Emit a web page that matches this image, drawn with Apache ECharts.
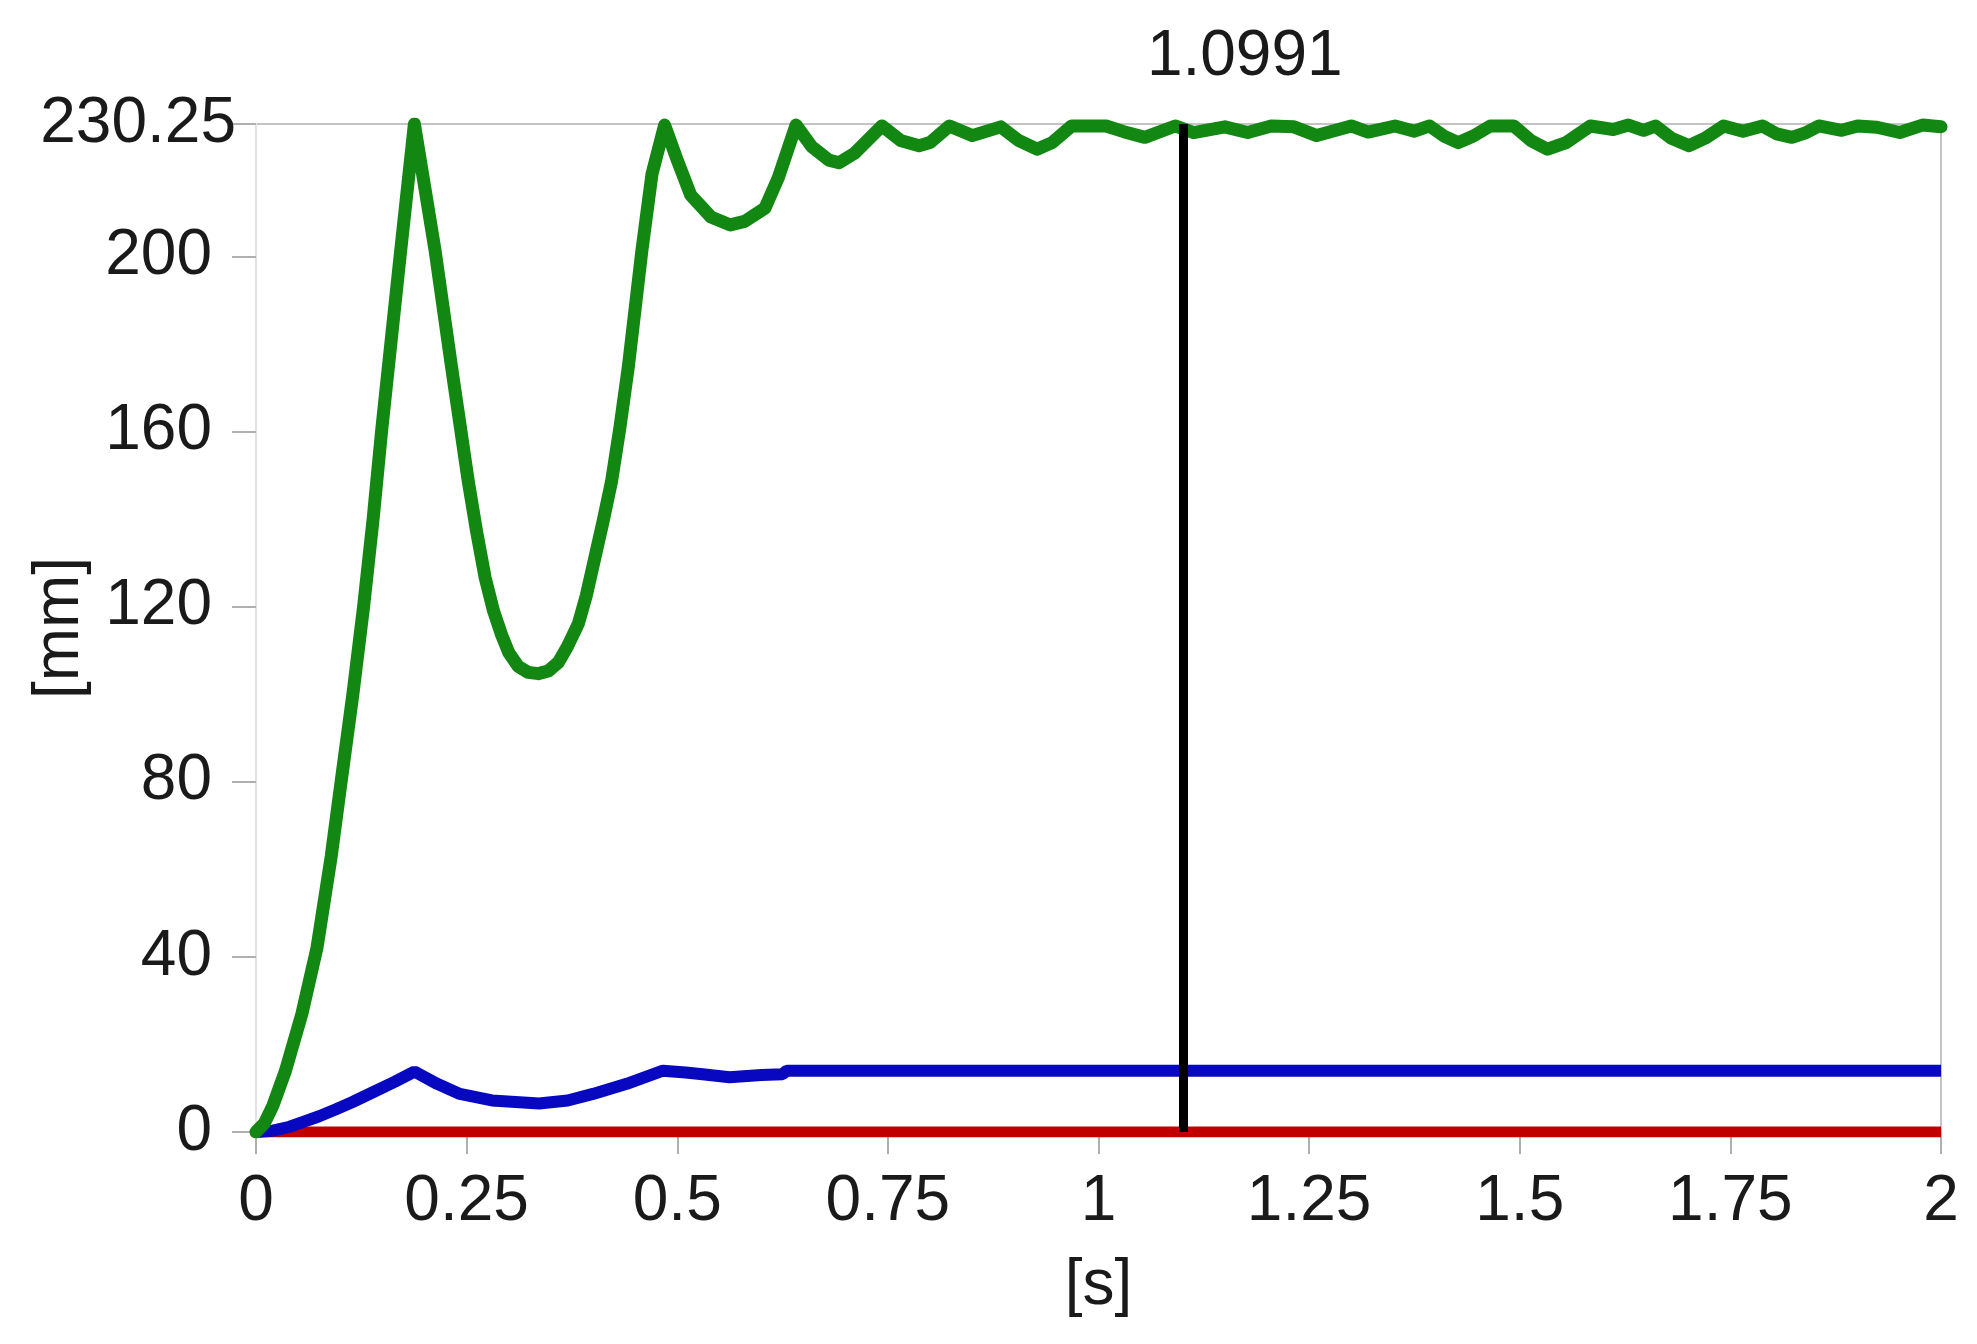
<!DOCTYPE html>
<html>
<head>
<meta charset="utf-8">
<script src="https://cdn.jsdelivr.net/npm/echarts@6/dist/echarts.min.js"></script>
<style>
html,body{margin:0;padding:0;background:#fff;}
#chart{width:1977px;height:1344px;}
</style>
</head>
<body>
<div id="chart"></div>
<script>
// time [s], displacement [mm]
var greenPoints = [
  [0,0],[0.01,2],[0.02,6],[0.035,14],[0.0545,27],[0.0723,42],[0.0893,63],[0.101,80],[0.115,100],
  [0.1277,120],[0.139,140],[0.149,160],[0.16,180],[0.171,200],[0.188,230.25],
  [0.2126,201.3],[0.232,174.9],[0.252,148.6],[0.262,137],[0.272,126.6],[0.282,119],[0.2916,113.5],
  [0.30,109.5],[0.311,106.4],[0.323,105],[0.335,104.7],[0.347,105.3],[0.359,107.3],[0.37,111],
  [0.3826,116.1],[0.392,122.5],[0.402,131],[0.412,139.5],[0.422,148.6],[0.432,161],[0.442,174.9],
  [0.458,201.3],[0.47,218.8],[0.485,230],
  [0.5,222],[0.516,214],[0.54,209],[0.563,207.2],[0.58,208],[0.604,211],[0.62,218],[0.641,230],
  [0.66,225],[0.68,222],[0.692,221.4],[0.71,223.5],[0.743,229.8],[0.765,226.5],[0.787,225.3],
  [0.8,226],[0.823,229.8],[0.85,227.6],[0.884,229.6],[0.905,226.5],[0.927,224.5],[0.945,226],
  [0.968,229.8],[1.009,229.8],[1.03,228.5],[1.055,227.2],[1.091,229.8],[1.113,228.3],[1.15,229.6],
  [1.177,228.3],[1.205,229.8],[1.232,229.6],[1.259,227.6],[1.3,229.8],[1.32,228.4],[1.352,229.8],
  [1.375,228.6],[1.393,229.8],[1.41,227.5],[1.427,226],[1.445,227.5],[1.465,229.8],[1.493,229.8],
  [1.513,226.5],[1.533,224.5],[1.555,226],[1.584,229.8],[1.611,229],[1.629,230],[1.647,228.8],
  [1.661,229.8],[1.68,227],[1.701,225.3],[1.72,227],[1.742,229.8],[1.765,228.6],[1.788,229.8],
  [1.805,228],[1.823,227.2],[1.84,228.3],[1.855,229.8],[1.882,228.8],[1.901,229.8],[1.924,229.5],
  [1.951,228.3],[1.978,230],[2,229.6]
];
var bluePoints = [
  [0,0],[0.02,0.3],[0.04,1.2],[0.0545,2.2],[0.075,3.6],[0.095,5.2],[0.114,6.8],[0.14,9.2],[0.165,11.5],
  [0.188,13.8],[0.215,11],[0.242,8.7],[0.28,7.2],[0.336,6.5],[0.37,7.2],[0.4,8.7],[0.44,11],[0.483,14],
  [0.51,13.6],[0.53,13.2],[0.562,12.5],[0.6,13],[0.625,13.2],[0.63,14],[2,14]
];
var redPoints = [[0,0],[0.5,0],[1,0],[1.5,0],[2,0]];
var cursorTime = 1.0991;
var yMax = 230.25;
var xName = '[s]';
var yName = '[mm]';

var FONT = '"Liberation Sans", Arial, sans-serif';
var chart = echarts.init(document.getElementById('chart'), null, {renderer: 'canvas'});
chart.setOption({
  animation: false,
  backgroundColor: '#ffffff',
  grid: {left: 256, right: 36, top: 124, bottom: 212, containLabel: false, outerBoundsMode: 'none',
         show: true, borderColor: '#c4c4c4', borderWidth: 2, backgroundColor: 'transparent'},
  xAxis: {
    type: 'value', min: 0, max: 2, interval: 0.25,
    name: xName, nameLocation: 'middle', nameGap: 122, nameMoveOverlap: false,
    nameTextStyle: {fontFamily: FONT, fontSize: 64, color: '#1a1a1a'},
    axisLine: {show: true, lineStyle: {color: '#c4c4c4', width: 2}},
    axisTick: {show: true, length: 22, lineStyle: {color: '#b0b0b0', width: 2}},
    axisLabel: {fontFamily: FONT, fontSize: 64, color: '#1a1a1a', margin: 38},
    splitLine: {show: false}
  },
  yAxis: {
    type: 'value', min: 0, max: yMax, interval: 40,
    name: yName, nameLocation: 'middle', nameGap: 164, nameRotate: 90, nameMoveOverlap: false,
    nameTextStyle: {fontFamily: FONT, fontSize: 64, color: '#1a1a1a'},
    axisLine: {show: true, lineStyle: {color: '#e2e2e2', width: 2}},
    axisTick: {show: true, length: 24, lineStyle: {color: '#b0b0b0', width: 2}},
    axisLabel: {
      fontFamily: FONT, fontSize: 64, color: '#1a1a1a', margin: 20, showMaxLabel: true,
      formatter: function (v) { return v === yMax ? String(v) : '{p|' + v + '}'; },
      rich: {p: {fontFamily: FONT, fontSize: 64, color: '#1a1a1a', padding: [0, 24, 0, 0]}}
    },
    splitLine: {show: false}
  },
  series: [
    {type: 'line', data: redPoints, showSymbol: false, z: 2,
     lineStyle: {color: '#c00000', width: 11}},
    {type: 'line', data: bluePoints, showSymbol: false, z: 3,
     lineStyle: {color: '#0808c0', width: 12}},
    {type: 'line', data: greenPoints, showSymbol: false, z: 4,
     lineStyle: {color: '#128812', width: 13, join: 'round', cap: 'round'},
     markLine: {
       silent: true, symbol: ['none', 'none'], animation: false,
       lineStyle: {color: '#000000', width: 9, type: 'solid'},
       label: {show: true, position: 'end', formatter: String(cursorTime),
               fontFamily: FONT, fontSize: 64, color: '#1a1a1a', distance: 35, offset: [62, 0]},
       data: [{xAxis: cursorTime}]
     }}
  ]
});
</script>
</body>
</html>
